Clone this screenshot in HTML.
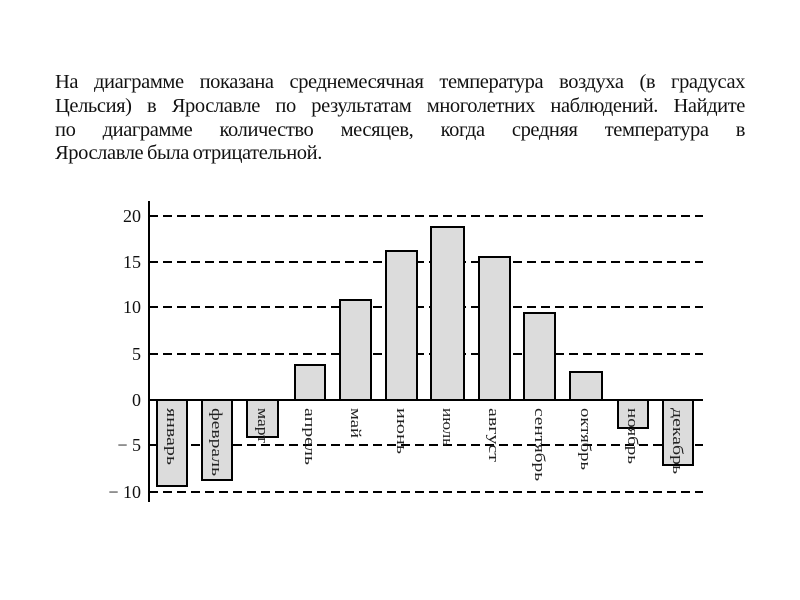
<!DOCTYPE html>
<html><head><meta charset="utf-8"><style>
body{margin:0;background:#fff;width:800px;height:600px;overflow:hidden;position:relative;font-family:"Liberation Serif",serif;}
.t{position:absolute;left:55px;width:690px;font-size:20.5px;color:#111;text-align:justify;text-align-last:justify;white-space:nowrap;line-height:1;letter-spacing:-0.4px;word-spacing:-1px;}
.l{text-align-last:left;}
</style></head><body>
<div class="t" style="top:72px">На диаграмме показана среднемесячная температура воздуха (в градусах</div>
<div class="t" style="top:96px">Цельсия) в Ярославле по результатам многолетних наблюдений. Найдите</div>
<div class="t" style="top:120px">по&nbsp; диаграмме&nbsp; количество&nbsp; месяцев,&nbsp; когда&nbsp; средняя&nbsp; температура&nbsp; в</div>
<div class="t l" style="top:143px">Ярославле была отрицательной.</div>
<svg width="800" height="600" style="position:absolute;left:0;top:0" font-family="Liberation Serif, serif">
<g stroke="#000" stroke-width="2" stroke-dasharray="9,5">
<line x1="149" y1="216" x2="703" y2="216"/>
<line x1="149" y1="262" x2="703" y2="262"/>
<line x1="149" y1="307" x2="703" y2="307"/>
<line x1="149" y1="354" x2="703" y2="354"/>
<line x1="149" y1="445" x2="703" y2="445"/>
<line x1="149" y1="492" x2="703" y2="492"/>
</g>
<g fill="#dcdcdc" stroke="#000" stroke-width="2">
<rect x="157" y="400" width="30" height="86"/>
<rect x="202" y="400" width="30" height="80"/>
<rect x="247" y="400" width="31" height="37"/>
<rect x="295" y="365" width="30" height="35"/>
<rect x="340" y="300" width="31" height="100"/>
<rect x="386" y="251" width="31" height="149"/>
<rect x="431" y="227" width="33" height="173"/>
<rect x="479" y="257" width="31" height="143"/>
<rect x="524" y="313" width="31" height="87"/>
<rect x="570" y="372" width="32" height="28"/>
<rect x="618" y="400" width="30" height="28"/>
<rect x="663" y="400" width="30" height="65"/>
</g>
<g stroke="#000" stroke-width="2">
<line x1="149" y1="400" x2="703" y2="400"/>
<line x1="149" y1="201" x2="149" y2="502"/>
</g>
<g font-size="18" text-anchor="end" fill="#111">
<text x="141" y="222">20</text>
<text x="141" y="268">15</text>
<text x="141" y="313">10</text>
<text x="141" y="360">5</text>
<text x="141" y="406">0</text>
<text x="141" y="451">− 5</text>
<text x="141" y="498">− 10</text>
</g>
<g font-size="15" fill="#222" lengthAdjust="spacingAndGlyphs">
<text transform="translate(167,408) rotate(90)" textLength="57" lengthAdjust="spacingAndGlyphs">январь</text>
<text transform="translate(212,408) rotate(90)" textLength="68" lengthAdjust="spacingAndGlyphs">февраль</text>
<text transform="translate(258,408) rotate(90)" textLength="35" lengthAdjust="spacingAndGlyphs">март</text>
<text transform="translate(305,408) rotate(90)" textLength="57" lengthAdjust="spacingAndGlyphs">апрель</text>
<text transform="translate(351,408) rotate(90)" textLength="30" lengthAdjust="spacingAndGlyphs">май</text>
<text transform="translate(397,408) rotate(90)" textLength="46" lengthAdjust="spacingAndGlyphs">июнь</text>
<text transform="translate(443,408) rotate(90)" textLength="38" lengthAdjust="spacingAndGlyphs">июль</text>
<text transform="translate(489,408) rotate(90)" textLength="54" lengthAdjust="spacingAndGlyphs">август</text>
<text transform="translate(535,408) rotate(90)" textLength="73" lengthAdjust="spacingAndGlyphs">сентябрь</text>
<text transform="translate(581,408) rotate(90)" textLength="62" lengthAdjust="spacingAndGlyphs">октябрь</text>
<text transform="translate(628,408) rotate(90)" textLength="56" lengthAdjust="spacingAndGlyphs">ноябрь</text>
<text transform="translate(673,408) rotate(90)" textLength="66" lengthAdjust="spacingAndGlyphs">декабрь</text>
</g>
</svg>
</body></html>
